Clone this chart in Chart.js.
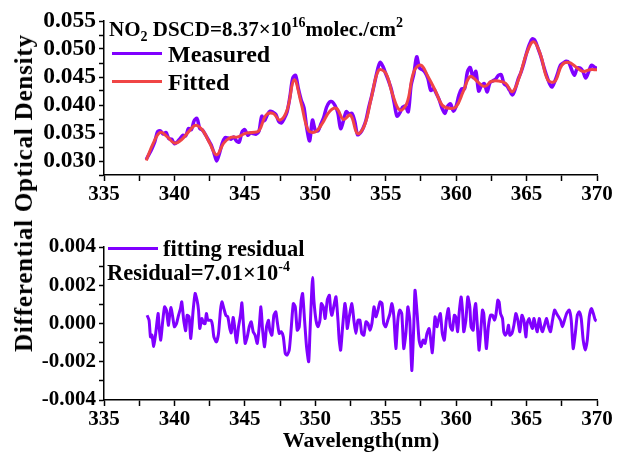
<!DOCTYPE html>
<html>
<head>
<meta charset="utf-8">
<script src="https://cdn.jsdelivr.net/npm/chart.js@4.4.1/dist/chart.umd.min.js"></script>
<style>
  body { margin: 0; background: #fff; }
  #wrap { position: relative; width: 629px; height: 462px; font-family: "Liberation Serif", "Times New Roman", serif; font-weight: bold; color: #000; }
  canvas { position: absolute; left: 0; }
  .txt { position: absolute; font-size: 21px; line-height: 1; white-space: nowrap; }
  .txt sup { font-size: 14px; vertical-align: 0; position: relative; top: -9px; }
  .txt sub { font-size: 14px; vertical-align: 0; position: relative; top: 5px; }
  .big { font-size: 24px; }
  .mid { font-size: 22.5px; }
  .swatch { position: absolute; height: 3px; width: 50px; }
  #ytitle { position: absolute; left: 24px; top: 193px; transform: translate(-50%, -50%) rotate(-90deg); font-size: 25px; letter-spacing: 0.8px; white-space: nowrap; }
  #xtitle { position: absolute; left: 361px; top: 440px; transform: translate(-50%, -50%); font-size: 22px; white-space: nowrap; }
</style>
</head>
<body>
<div id="wrap">
  <canvas id="spectrum" width="629" height="210" style="top:0"></canvas>
  <canvas id="residual" width="629" height="252" style="top:210px"></canvas>

  <div class="txt" style="left:109px; top:19px">NO<sub>2</sub> DSCD=8.37×10<sup>16</sup>molec./cm<sup>2</sup></div>
  <div class="swatch" style="left:112px; top:52px; background:#8000ff"></div>
  <div class="txt big" style="left:168px; top:42px">Measured</div>
  <div class="swatch" style="left:112px; top:80px; background:#f04545"></div>
  <div class="txt big" style="left:168px; top:70px">Fitted</div>

  <div class="swatch" style="left:108px; top:247px; background:#8000ff"></div>
  <div class="txt mid" style="left:163px; top:238px">fitting residual</div>
  <div class="txt mid" style="left:107px; top:262px">Residual=7.01×10<sup>-4</sup></div>

  <div id="ytitle">Differential Optical Density</div>
  <div id="xtitle">Wavelength(nm)</div>
</div>

<script>
// wavelength axis
const xMin = 335;
const xMax = 370;

// measured optical density, sampled every 0.2 nm from 338 nm
const measuredStart = 338;
const measuredStep = 0.2;
const measured = [
  0.0303, 0.0312, 0.0322, 0.0334, 0.0352, 0.0354, 0.0348, 0.0351, 0.0340, 0.0339,
  0.0331, 0.0334, 0.0340, 0.0346, 0.0345, 0.0358, 0.0356, 0.0372, 0.0376, 0.0358,
  0.0355, 0.0347, 0.0338, 0.0329, 0.0315, 0.0300, 0.0314, 0.0332, 0.0342, 0.0341,
  0.0339, 0.0343, 0.0336, 0.0334, 0.0352, 0.0356, 0.0346, 0.0350, 0.0349, 0.0348,
  0.0353, 0.0380, 0.0372, 0.0383, 0.0389, 0.0387, 0.0383, 0.0371, 0.0368, 0.0376,
  0.0388, 0.0415, 0.0448, 0.0453, 0.0429, 0.0409, 0.0395, 0.0358, 0.0336, 0.0373,
  0.0355, 0.0354, 0.0366, 0.0378, 0.0396, 0.0405, 0.0406, 0.0399, 0.0386, 0.0358,
  0.0372, 0.0388, 0.0384, 0.0385, 0.0371, 0.0347, 0.0350, 0.0359, 0.0373, 0.0396,
  0.0416, 0.0438, 0.0461, 0.0476, 0.0469, 0.0456, 0.0443, 0.0428, 0.0404, 0.0380,
  0.0386, 0.0396, 0.0398, 0.0388, 0.0435, 0.0456, 0.0486, 0.0466, 0.0463, 0.0458,
  0.0447, 0.0426, 0.0429, 0.0420, 0.0409, 0.0394, 0.0385, 0.0398, 0.0402, 0.0389,
  0.0398, 0.0418, 0.0429, 0.0429, 0.0459, 0.0467, 0.0449, 0.0460, 0.0425, 0.0435,
  0.0438, 0.0423, 0.0440, 0.0443, 0.0446, 0.0453, 0.0454, 0.0438, 0.0434, 0.0426,
  0.0418, 0.0429, 0.0446, 0.0458, 0.0474, 0.0493, 0.0508, 0.0518, 0.0515, 0.0502,
  0.0488, 0.0470, 0.0454, 0.0440, 0.0432, 0.0442, 0.0456, 0.0471, 0.0475, 0.0478,
  0.0476, 0.0463, 0.0453, 0.0466, 0.0466, 0.0460, 0.0448, 0.0459, 0.0471, 0.0468,
  0.0465
];

// fitted optical density, every 0.5 nm from 338 nm
const fittedStart = 338;
const fittedStep = 0.5;
const fitted = [
  0.0301, 0.0332, 0.0351, 0.0343, 0.0332, 0.0338, 0.0352, 0.0364, 0.0355, 0.0332,
  0.0311, 0.0332, 0.0342, 0.0343, 0.0349, 0.0351, 0.0354, 0.0382, 0.0385, 0.0373,
  0.0391, 0.0445, 0.0403, 0.0355, 0.0352, 0.0367, 0.0388, 0.0394, 0.0374, 0.0382,
  0.0349, 0.0364, 0.0415, 0.0462, 0.0457, 0.0418, 0.0391, 0.0403, 0.0460, 0.0471,
  0.0451, 0.0427, 0.0400, 0.0394, 0.0397, 0.0424, 0.0451, 0.0442, 0.0433, 0.0442,
  0.0443, 0.0439, 0.0424, 0.0451, 0.0492, 0.0513, 0.0489, 0.0445, 0.0442, 0.0471,
  0.0476, 0.0468, 0.0460, 0.0463, 0.0463
];

// fitting residual
const residualWavelength = [
  338.06, 338.20, 338.30, 338.40, 338.53, 338.67, 338.84, 338.91, 339.03, 339.15,
  339.30, 339.43, 339.57, 339.67, 339.76, 339.86, 340.00, 340.15, 340.29, 340.43,
  340.52, 340.66, 340.80, 340.90, 341.04, 341.16, 341.33, 341.47, 341.61, 341.71,
  341.80, 341.94, 342.08, 342.18, 342.27, 342.37, 342.46, 342.60, 342.70, 342.80,
  342.98, 343.13, 343.27, 343.37, 343.51, 343.65, 343.79, 343.93, 344.03, 344.17,
  344.26, 344.40, 344.55, 344.69, 344.79, 344.88, 345.02, 345.17, 345.31, 345.45,
  345.59, 345.73, 345.88, 346.02, 346.14, 346.26, 346.40, 346.54, 346.68, 346.77,
  346.92, 347.06, 347.20, 347.30, 347.44, 347.58, 347.73, 347.87, 348.00, 348.15,
  348.29, 348.44, 348.58, 348.72, 348.86, 349.00, 349.10, 349.24, 349.38, 349.53,
  349.62, 349.72, 349.81, 349.90, 350.05, 350.19, 350.33, 350.43, 350.57, 350.70,
  350.85, 351.00, 351.09, 351.18, 351.33, 351.47, 351.61, 351.70, 351.80, 351.94,
  352.10, 352.18, 352.27, 352.41, 352.60, 352.74, 352.88, 353.03, 353.17, 353.30,
  353.45, 353.60, 353.74, 353.88, 354.02, 354.17, 354.30, 354.45, 354.60, 354.74,
  354.86, 355.00, 355.15, 355.30, 355.44, 355.58, 355.72, 355.86, 356.00, 356.14,
  356.28, 356.43, 356.57, 356.71, 356.85, 356.99, 357.08, 357.23, 357.37, 357.51,
  357.65, 357.79, 357.93, 358.08, 358.17, 358.31, 358.41, 358.50, 358.64, 358.74,
  358.88, 359.02, 359.16, 359.30, 359.45, 359.59, 359.73, 359.87, 359.97, 360.11,
  360.21, 360.35, 360.45, 360.54, 360.69, 360.83, 360.97, 361.06, 361.21, 361.30,
  361.39, 361.54, 361.63, 361.77, 361.87, 361.96, 362.06, 362.15, 362.29, 362.44,
  362.58, 362.72, 362.82, 362.96, 363.05, 363.15, 363.29, 363.38, 363.48, 363.62,
  363.72, 363.81, 363.96, 364.10, 364.24, 364.38, 364.52, 364.67, 364.81, 364.95,
  365.04, 365.18, 365.28, 365.42, 365.52, 365.61, 365.76, 365.90, 366.04, 366.13,
  366.27, 366.42, 366.56, 366.70, 366.84, 366.99, 367.13, 367.27, 367.41, 367.55,
  367.69, 367.84, 368.03, 368.17, 368.31, 368.46, 368.60, 368.74, 368.88, 369.02,
  369.17, 369.31, 369.45, 369.60, 369.74, 369.88, 369.97
];
const residual = [
  0.00043, 0.00017, -0.00070, -0.00060, -0.00120, -0.00052, 0.00052, -0.00017, -0.00087, 0.00000,
  0.00087, 0.00070, -0.00009, 0.00050, 0.00083, 0.00043, -0.00017, 0.00000, 0.00043, 0.00078,
  0.00113, 0.00017, -0.00038, 0.00043, 0.00035, -0.00078, 0.00070, 0.00157, 0.00120, 0.00070,
  -0.00026, 0.00026, 0.00000, 0.00000, 0.00052, 0.00017, 0.00017, 0.00017, -0.00009, -0.00070,
  -0.00096, -0.00052, 0.00070, 0.00113, 0.00078, 0.00043, 0.00035, -0.00026, -0.00049, 0.00031,
  -0.00009, -0.00100, -0.00017, 0.00043, 0.00108, 0.00017, -0.00104, -0.00070, -0.00017, 0.00009,
  -0.00043, -0.00061, -0.00104, -0.00017, 0.00087, -0.00035, -0.00122, -0.00017, 0.00017, -0.00035,
  -0.00061, 0.00043, 0.00061, 0.00009, -0.00052, -0.00043, -0.00070, -0.00157, -0.00165, -0.00139,
  -0.00026, 0.00104, 0.00087, -0.00035, -0.00017, 0.00122, 0.00157, 0.00017, -0.00122, -0.00200,
  -0.00052, 0.00122, 0.00240, 0.00122, 0.00017, -0.00017, 0.00017, 0.00104, 0.00087, 0.00026,
  0.00122, 0.00148, 0.00070, 0.00043, 0.00096, 0.00139, 0.00017, -0.00087, -0.00139, -0.00017,
  0.00104, 0.00070, -0.00026, 0.00035, 0.00104, 0.00017, -0.00052, 0.00017, 0.00017, -0.00052,
  -0.00061, 0.00009, 0.00000, -0.00035, 0.00000, 0.00087, 0.00035, 0.00070, 0.00113, 0.00104,
  0.00000, -0.00017, 0.00017, 0.00052, 0.00104, 0.00035, -0.00131, 0.00017, 0.00070, 0.00052,
  -0.00131, -0.00052, 0.00087, 0.00017, -0.00246, -0.00017, 0.00174, 0.00052, -0.00087, -0.00122,
  -0.00087, -0.00104, -0.00052, -0.00026, -0.00070, -0.00153, -0.00052, 0.00035, -0.00017, 0.00017,
  0.00052, -0.00052, -0.00087, 0.00017, 0.00078, -0.00017, -0.00035, 0.00043, 0.00035, -0.00043,
  0.00052, 0.00139, 0.00070, -0.00043, 0.00017, 0.00139, 0.00087, -0.00017, -0.00035, 0.00070,
  0.00104, -0.00052, -0.00139, -0.00017, 0.00070, 0.00052, -0.00052, -0.00131, -0.00017, 0.00043,
  0.00043, 0.00017, 0.00043, 0.00122, 0.00113, 0.00052, 0.00026, -0.00043, -0.00061, -0.00043,
  -0.00009, -0.00061, -0.00052, -0.00009, 0.00052, 0.00017, -0.00043, 0.00043, 0.00017, -0.00070,
  0.00000, 0.00026, 0.00000, -0.00026, 0.00026, 0.00000, -0.00043, 0.00026, -0.00026, -0.00043,
  -0.00009, 0.00026, -0.00017, -0.00043, 0.00017, 0.00070, 0.00052, 0.00035, 0.00017, -0.00017,
  0.00017, 0.00052, 0.00070, 0.00017, -0.00131, -0.00052, 0.00043, 0.00061, 0.00026, -0.00087,
  -0.00139, -0.00087, 0.00035, 0.00078, 0.00052, 0.00017, 0.00014
];

const purple = '#8000ff';
const red = '#f04545';
const fontFamily = '"Liberation Serif", "Times New Roman", serif';
const tickFont = { family: fontFamily, size: 21, weight: 'bold' };
const topYFont = { family: fontFamily, size: 23.5, weight: 'bold' };

function toPoints(start, step, values) {
  return values.map((v, i) => ({ x: +(start + i * step).toFixed(2), y: v }));
}

function pairPoints(xs, ys) {
  return xs.map((x, i) => ({ x: x, y: ys[i] }));
}

// shared look for both panels: left and bottom axis lines only, ticks outside
function xScale(axisHeight) {
  return {
    type: 'linear',
    min: xMin,
    max: xMax,
    afterFit: s => { s.height = axisHeight; },
    ticks: {
      stepSize: 2.5,
      color: '#000',
      font: tickFont,
      padding: 1,
      maxRotation: 0,
      autoSkip: false,
      callback: v => (v % 5 === 0 ? String(v) : '')
    },
    grid: { drawOnChartArea: false, tickLength: 6, tickWidth: 1.5, tickColor: '#000' },
    border: { color: '#000', width: 1.5 }
  };
}

function yScale(min, max, step, labelStep, labelFont) {
  return {
    type: 'linear',
    min: min,
    max: max,
    afterFit: s => { s.width = 104; },
    ticks: {
      stepSize: step,
      color: '#000',
      font: labelFont,
      padding: 3,
      autoSkip: false,
      callback: v => {
        const k = v / labelStep;
        if (Math.abs(k - Math.round(k)) > 1e-6) return '';
        if (Math.abs(v) < 1e-9) return '0.000';
        return v.toFixed(3);
      }
    },
    grid: { drawOnChartArea: false, tickLength: 5, tickWidth: 1.5, tickColor: '#000' },
    border: { color: '#000', width: 1.5 }
  };
}

const common = {
  responsive: false,
  animation: false,
  devicePixelRatio: 1,
  plugins: { legend: { display: false }, tooltip: { enabled: false } },
  elements: { point: { radius: 0 } }
};

new Chart(document.getElementById('spectrum'), {
  type: 'line',
  data: {
    datasets: [
      {
        label: 'Fitted',
        data: toPoints(fittedStart, fittedStep, fitted),
        borderColor: red,
        borderWidth: 3,
        tension: 0.4,
        order: 0
      },
      {
        label: 'Measured',
        data: toPoints(measuredStart, measuredStep, measured),
        borderColor: purple,
        borderWidth: 3.5,
        tension: 0.3,
        order: 1
      }
    ]
  },
  options: Object.assign({}, common, {
    layout: { padding: { top: 21, right: 32, bottom: 0, left: 0 } },
    scales: {
      x: xScale(35),
      y: yScale(0.0275, 0.055, 0.0025, 0.005, topYFont)
    }
  })
});

new Chart(document.getElementById('residual'), {
  type: 'line',
  data: {
    datasets: [
      {
        label: 'fitting residual',
        data: pairPoints(residualWavelength, residual),
        borderColor: purple,
        borderWidth: 3,
        tension: 0.2
      }
    ]
  },
  options: Object.assign({}, common, {
    layout: { padding: { top: 37, right: 32, bottom: 0, left: 0 } },
    scales: {
      x: xScale(62),
      y: yScale(-0.004, 0.004, 0.001, 0.002, tickFont)
    }
  })
});
</script>
</body>
</html>
